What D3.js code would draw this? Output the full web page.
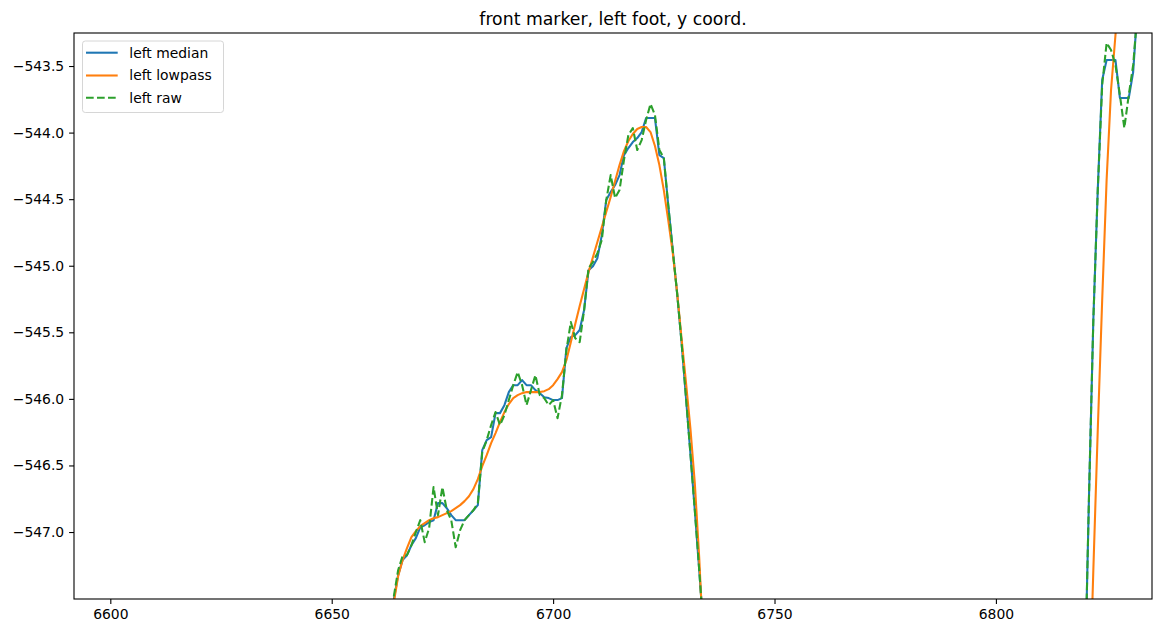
<!DOCTYPE html>
<html><head><meta charset="utf-8">
<script src="https://cdn.jsdelivr.net/npm/d3@7"></script>
<style>body{margin:0;background:#fff} text{font-family:"DejaVu Sans",sans-serif}</style>
</head><body>
<svg id="c" width="1153" height="625"></svg>
<script>
// ---- data ----
const title = "front marker, left foot, y coord.";
const seriesNames = ["left median", "left lowpass", "left raw"];
const xTicks = [6600, 6650, 6700, 6750, 6800];
const yTicks = [-547.0, -546.5, -546.0, -545.5, -545.0, -544.5, -544.0, -543.5];

// segment 1: frames 6663..6734
const seg1Start = 6663;
const raw1 = [
 -547.812,-547.489,-547.287,-547.181,-547.174,-547.099,-547.001,-546.911,-547.076,-546.971,
 -546.663,-546.873,-546.663,-546.836,-546.911,-547.114,-546.986,-546.911,-546.873,-546.836,
 -546.783,-546.400,-546.310,-546.197,-546.099,-546.197,-546.122,-546.009,-545.897,-545.799,
 -545.897,-546.047,-545.934,-545.822,-545.972,-545.994,-546.047,-546.009,-546.145,-545.972,
 -545.634,-545.423,-545.544,-545.574,-545.333,-545.018,-544.973,-544.905,-544.807,-544.507,
 -544.319,-544.492,-544.432,-544.206,-544.018,-543.966,-544.131,-544.056,-543.906,-543.785,
 -543.868,-544.131,-544.191,-544.544,-544.875,-545.205,-545.574,-545.987,-546.408,-546.836,
 -547.287,-547.760];
const median1 = [
 -547.888,-547.512,-547.324,-547.211,-547.174,-547.099,-547.046,-546.964,-546.949,-546.926,
 -546.911,-546.783,-546.783,-546.821,-546.873,-546.911,-546.911,-546.911,-546.873,-546.836,
 -546.798,-546.385,-546.310,-546.287,-546.107,-546.107,-546.047,-545.949,-545.897,-545.897,
 -545.859,-545.897,-545.897,-545.934,-545.957,-545.987,-545.994,-546.009,-546.009,-545.994,
 -545.619,-545.536,-545.521,-545.483,-545.333,-545.033,-545.003,-544.943,-544.770,-544.507,
 -544.447,-544.394,-544.319,-544.169,-544.116,-544.071,-544.041,-543.996,-543.891,-543.891,
 -543.891,-544.169,-544.191,-544.544,-544.875,-545.205,-545.574,-545.987,-546.408,-546.836,
 -547.287,-547.760];
const lowpass1 = [
 -547.700,-547.534,-547.332,-547.211,-547.121,-547.039,-546.994,-546.956,-546.933,-546.911,
 -546.896,-546.888,-546.873,-546.858,-546.843,-546.821,-546.798,-546.768,-546.731,-546.678,
 -546.603,-546.505,-546.423,-546.332,-546.257,-546.175,-546.099,-546.039,-545.994,-545.972,
 -545.957,-545.949,-545.949,-545.949,-545.949,-545.942,-545.927,-545.897,-545.852,-545.799,
 -545.709,-545.574,-545.438,-545.303,-545.175,-545.048,-544.935,-544.822,-544.710,-544.597,
 -544.484,-544.364,-544.244,-544.139,-544.063,-544.011,-543.973,-543.958,-543.958,-543.996,
 -544.101,-544.244,-544.432,-544.657,-544.897,-545.198,-545.544,-545.874,-546.220,-546.633,
 -547.196,-547.888];

// segment 2: frames 6820..6833
const seg2Start = 6820;
const raw2 = [-548.263,-546.761,-545.408,-544.432,-543.643,-543.327,-543.380,-543.492,-543.718,-543.966,-543.718,-543.492,-543.079,-542.704];
const median2 = [-548.263,-546.761,-545.408,-544.432,-543.605,-543.455,-543.455,-543.455,-543.740,-543.740,-543.740,-543.545,-543.042,-542.704];
const lowpass2 = [-549.540,-548.414,-547.287,-546.235,-545.258,-544.356,-543.680,-543.267,-542.891,-542.550,-542.250,-541.980,-541.750,-541.550];

// ---- chart ----
const L = 74, R = 1152, T = 33, B = 599;
const svg = d3.select("#c");
const x = d3.scaleLinear().domain([6591.8, 6835.25]).range([L, R]);
const y = d3.scaleLinear().domain([-547.503, -543.252]).range([B, T]);

svg.append("defs").append("clipPath").attr("id", "clip")
  .append("rect").attr("x", L).attr("y", T).attr("width", R - L).attr("height", B - T);

const line = d3.line().x(d => x(d[0])).y(d => y(d[1]));
const toPts = (start, arr) => arr.map((v, i) => [start + i, v]);

const styles = [
  {name: seriesNames[0], color: "#1f77b4", dash: null, segs: [toPts(seg1Start, median1), toPts(seg2Start, median2)]},
  {name: seriesNames[1], color: "#ff7f0e", dash: null, segs: [toPts(seg1Start, lowpass1), toPts(seg2Start, lowpass2)]},
  {name: seriesNames[2], color: "#2ca02c", dash: "7.7,3.3", segs: [toPts(seg1Start, raw1), toPts(seg2Start, raw2)]}
];

const g = svg.append("g").attr("clip-path", "url(#clip)");
styles.forEach(s => {
  s.segs.forEach(pts => {
    g.append("path").attr("d", line(pts)).attr("fill", "none")
      .attr("stroke", s.color).attr("stroke-width", 2.08)
      .attr("stroke-dasharray", s.dash).attr("stroke-linejoin", "round");
  });
});

// axes
const xa = svg.append("g").attr("transform", `translate(0,${B})`)
  .call(d3.axisBottom(x).tickValues(xTicks).tickFormat(d3.format("d")).tickSize(4.9).tickPadding(4.9));
const ya = svg.append("g").attr("transform", `translate(${L},0)`)
  .call(d3.axisLeft(y).tickValues(yTicks).tickFormat(d3.format(".1f")).tickSize(4.9).tickPadding(4.9));
[xa, ya].forEach(a => {
  a.select(".domain").remove();
  a.selectAll("line").attr("stroke", "#000").attr("stroke-width", 1.1);
  a.selectAll("text").attr("fill", "#000").style("font-size", "13.9px").style("font-family", "DejaVu Sans");
});

svg.append("rect").attr("x", L).attr("y", T).attr("width", R - L).attr("height", B - T)
  .attr("fill", "none").attr("stroke", "#000").attr("stroke-width", 1.1);

// title
svg.append("text").attr("x", (L + R) / 2).attr("y", 25).attr("text-anchor", "middle")
  .style("font-size", "17.3px").attr("fill", "#000").text(title);

// legend
const lg = svg.append("g");
lg.append("rect").attr("x", 82.5).attr("y", 41).attr("width", 141).attr("height", 71.5)
  .attr("rx", 2.8).attr("fill", "#fff").attr("fill-opacity", 0.8)
  .attr("stroke", "#d6d6d6").attr("stroke-width", 1);
const ly = [52.7, 75.5, 97.7];
styles.forEach((s, i) => {
  lg.append("line").attr("x1", 86).attr("x2", 117.7).attr("y1", ly[i]).attr("y2", ly[i])
    .attr("stroke", s.color).attr("stroke-width", 2.08).attr("stroke-dasharray", s.dash);
  lg.append("text").attr("x", 129.3).attr("y", ly[i]).attr("dy", "0.35em")
    .style("font-size", "13.9px").attr("fill", "#000").text(s.name);
});
</script>
</body></html>
